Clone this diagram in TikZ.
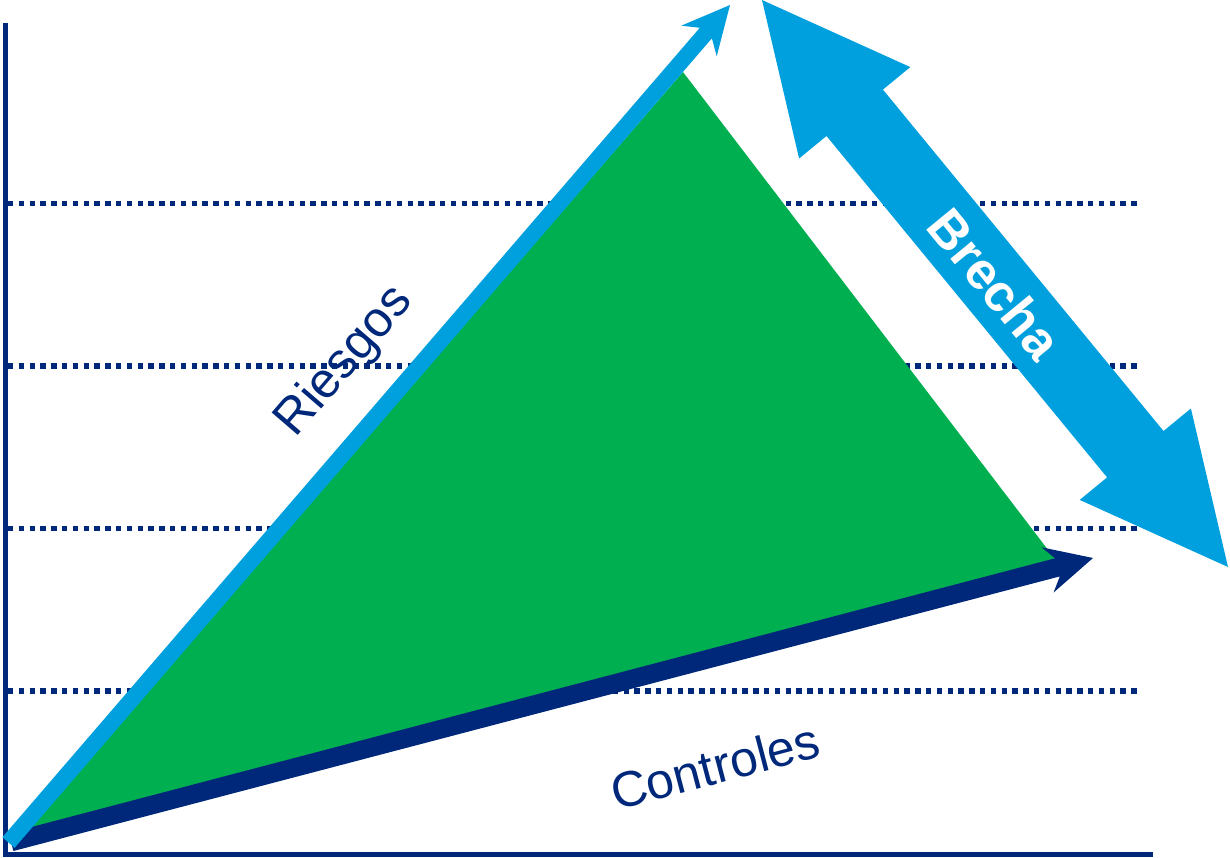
\documentclass[tikz,border=0pt]{standalone}
\usepackage{fontspec}
\setmainfont{Liberation Sans}
\definecolor{navy}{RGB}{0,40,122}
\definecolor{skyb}{RGB}{0,160,223}
\definecolor{grn}{RGB}{0,175,80}
\begin{document}
\begin{tikzpicture}[x=1pt,y=-1pt,
  gridline/.style={navy,line width=5.4pt,dash pattern=on 5.4pt off 5.4pt},
  axisline/.style={navy,line width=5.5pt},
  lbl/.style={inner sep=0pt,font=\fontsize{50}{50}\selectfont,text=navy}]
\useasboundingbox (0,0) rectangle (1230,858);
% grid
\foreach \yy in {203.5,366,528.5,691}
  \draw[gridline] (8,\yy) -- (1140,\yy);
% axes
\coordinate (o) at (5.5,854.5);
\coordinate (ytop) at (5.5,23);
\coordinate (xend) at (1153,854.5);
\draw[axisline] (ytop) -- (5.5,857) (3,854.5) -- (xend);
% green triangle
\fill[grn] (683,72) -- (1055,559) -- (20,838) -- cycle;
% Controles arrow
\fill[navy] (1093,558) -- (1041.6,547.3) -- (1055.0,558.3) -- (8.6,833.0)
  -- (13.4,851.0) -- (1059.8,576.4) -- (1053.5,592.6) -- cycle;
% Riesgos arrow
\fill[skyb] (730,5) -- (681.3,25.7) -- (699.8,27.8) -- (2.4,837.2)
  -- (14.6,847.8) -- (711.9,38.3) -- (716.7,56.3) -- cycle;
% Brecha double arrow
\fill[skyb] (762,0) -- (910.3,67.1) -- (882.9,89.6) -- (1163.5,431.0)
  -- (1190.9,408.5) -- (1228,567) -- (1079.7,499.9) -- (1107.1,477.4)
  -- (826.5,136.0) -- (799.1,158.5) -- cycle;
% labels
\node[lbl,rotate=49.3] (riesgos) at (345,362) {Riesgos};
\node[lbl,rotate=14.7] (controles) at (715,766) {Controles};
\node[lbl,rotate=-50.6,text=white,font=\fontsize{52}{52}\selectfont\bfseries] (brecha) at (995,284) {Brecha};
\end{tikzpicture}
\end{document}
